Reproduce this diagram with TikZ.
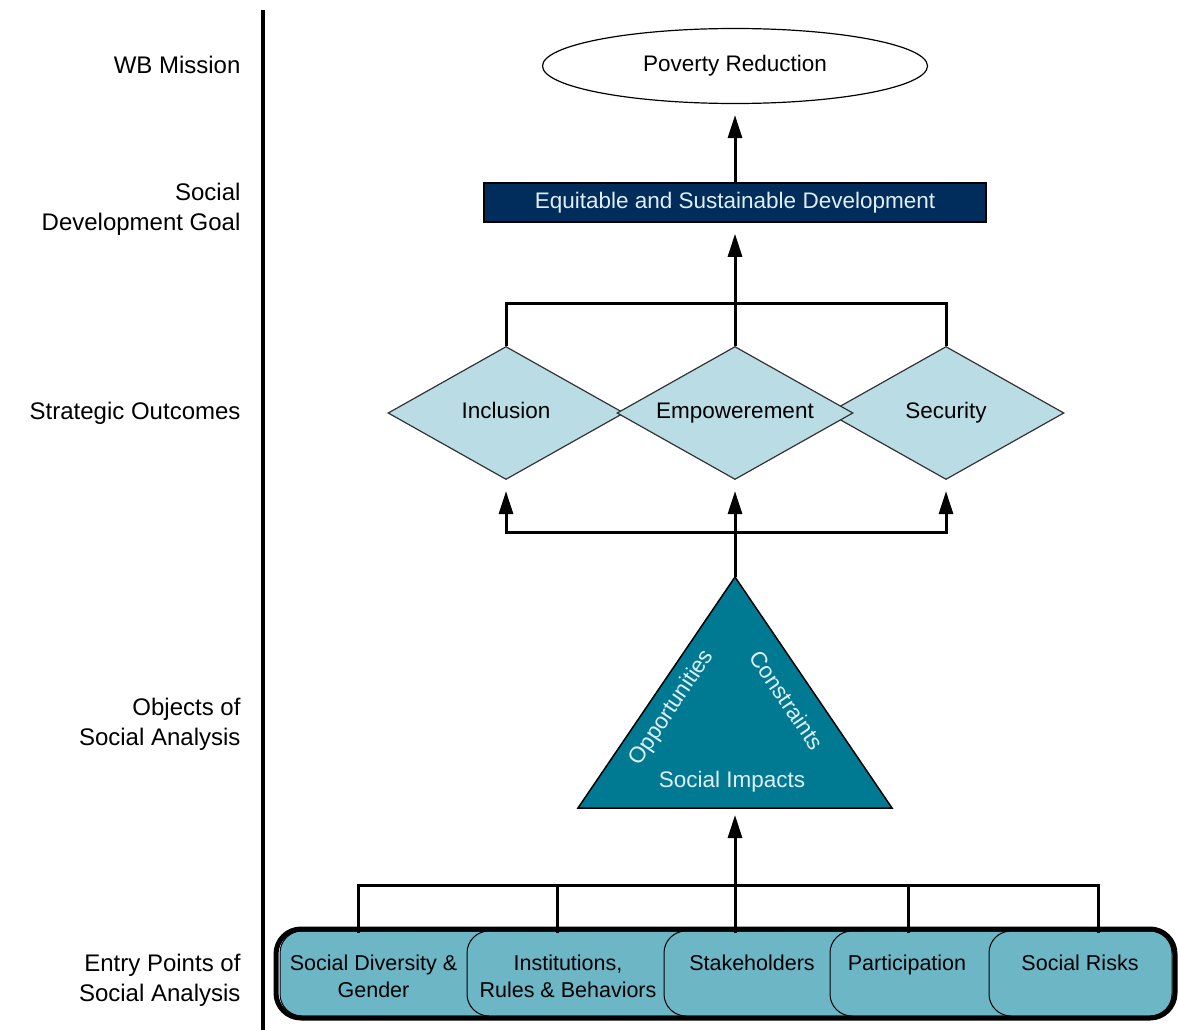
\documentclass[tikz,border=0pt]{standalone}
\usepackage{fontspec}
\setmainfont{Liberation Sans}
\usetikzlibrary{arrows.meta, positioning, shapes.geometric}

\definecolor{navybox}{RGB}{0,45,92}
\definecolor{navytext}{RGB}{225,238,245}
\definecolor{tealtri}{RGB}{0,122,146}
\definecolor{lightdia}{RGB}{186,221,229}
\definecolor{entryfill}{RGB}{108,182,198}

\tikzset{
  conn/.style = {line width=3pt},
  upconn/.style = {conn, -{Triangle[length=23pt,width=14pt]}, shorten >=11pt},
  levellabel/.style = {anchor=east, align=right, font=\fontsize{24}{30}\selectfont},
  mission/.style = {ellipse, draw, line width=1.2pt, fill=white,
    minimum width=385pt, minimum height=75pt, font=\fontsize{22.5}{27}\selectfont},
  goalbox/.style = {rectangle, draw=black, line width=1.5pt, fill=navybox,
    text=navytext, minimum width=502pt, minimum height=39pt,
    font=\fontsize{22.5}{27}\selectfont},
  outcome/.style = {diamond, shape aspect=1.77, draw=black!80, line width=1.2pt,
    fill=lightdia, minimum width=236pt, minimum height=133pt, inner sep=0pt,
    text height=16pt, text depth=5pt, font=\fontsize{22.5}{27}\selectfont},
  trilabel/.style = {text=navytext, font=\fontsize{22.5}{27}\selectfont},
  entryback/.style = {draw=black, line width=1pt, fill=entryfill, rounded corners=22pt},
  entry/.style = {align=center, minimum height=85pt, inner sep=0pt,
    font=\fontsize{21.5}{27}\selectfont}
}

\begin{document}
\begin{tikzpicture}[x=1pt, y=-1pt]
  \useasboundingbox (0,0) rectangle (1178,1030);

  % level labels on the left
  \draw[line width=4.5pt] (263,10) -- (263,1030);
  \node[levellabel] (lvmission) at (244,65) {WB Mission};
  \node[levellabel] (lvgoal) at (244,209) {Social\\Development Goal};
  \node[levellabel] (lvoutcome) at (244,413) {Strategic Outcomes};
  \node[levellabel] (lvobject) at (244,724) {Objects of\\Social Analysis};
  \node[levellabel] (lventry) at (244,980) {Entry Points of\\Social Analysis};

  % mission and goal
  \node[mission] (povred) at (735,66) {Poverty Reduction};
  \node[goalbox] (goal) at (735,202.5) {Equitable and Sustainable Development};

  % strategic outcomes
  \node[outcome] (incl) at (506,413) {Inclusion};
  \node[outcome] (secu) at (946,413) {Security};
  \node[outcome] (empw) at (735,413) {Empowerement};

  \coordinate (topbar) at (735,303);
  \coordinate (midbar) at (735,532);

  % objects of social analysis
  \coordinate (apex) at (735,577);
  \coordinate (tribase) at (735,808);
  \filldraw[fill=tealtri, draw=black, line width=1.5pt]
    (578,808) -- (apex) -- (892,808) -- cycle;
  \node[trilabel, rotate=56] (oppo) at (672,708) {Opportunities};
  \node[trilabel, rotate=-56] (cons) at (787,700) {Constraints};
  \node[trilabel] (impact) at (732,782) {Social Impacts};

  % entry points
  \foreach \xl/\xr in {280/507, 467/704, 664/870, 830/1029, 989/1172} {
    \filldraw[entryback] (\xl,931) rectangle (\xr,1016);
  }
  \draw[line width=5pt, rounded corners=25pt] (276,929) rectangle (1175,1018);

  \node[entry, minimum width=187pt] (sdg) at (373.5,976) {Social Diversity \&\\Gender};
  \node[entry, minimum width=197pt] (inst) at (568,976) {Institutions,\\Rules \& Behaviors};
  \node[entry, minimum width=166pt] (stak) at (752,976) {Stakeholders\\\mbox{}};
  \node[entry, minimum width=159pt] (part) at (907,976) {Participation\\\mbox{}};
  \node[entry, minimum width=184pt] (risk) at (1080,976) {Social Risks\\\mbox{}};

  \coordinate (botbar) at (735,885);

  % connectors
  \draw[upconn] (goal) -- (povred);
  \draw[conn] (incl.north) |- (topbar) -| (secu.north);
  \draw[upconn] (empw.north) -- (goal.south);

  \draw[upconn] (midbar) -| (incl.south);
  \draw[upconn] (midbar) -| (secu.south);
  \draw[upconn] (apex) -- (empw.south);

  \draw[conn] ([xshift=-15.5pt]sdg.north) |- (botbar) -| ([xshift=18pt]risk.north);
  \draw[conn] ([xshift=-11pt]inst.north) -- ([xshift=-11pt]inst.north |- botbar);
  \draw[conn] ([xshift=1pt]part.north) -- ([xshift=1pt]part.north |- botbar);
  \draw[upconn, shorten >=7pt] ([xshift=-17pt]stak.north) -- (tribase);
\end{tikzpicture}
\end{document}
